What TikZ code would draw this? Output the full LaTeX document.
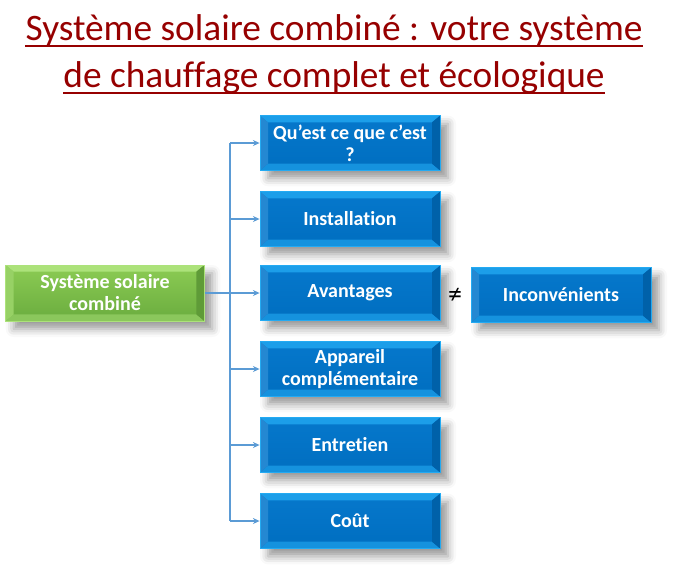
\documentclass[tikz,border=0pt]{standalone}
\usepackage{fontspec}
\setmainfont[Ligatures=NoCommon]{Carlito}
\usetikzlibrary{arrows.meta,shadows.blur}
\definecolor{titlered}{RGB}{150,0,0}
\definecolor{linkblue}{RGB}{91,155,213}
\definecolor{bluetop}{RGB}{6,120,204}
\definecolor{bluebot}{RGB}{0,110,192}
\definecolor{blueedge}{RGB}{35,170,242}
\definecolor{greentop}{RGB}{140,204,84}
\definecolor{greenbot}{RGB}{106,172,62}
\definecolor{greenedge}{RGB}{172,226,122}

\begin{document}
\begin{tikzpicture}[x=.75pt,y=-.75pt,line width=.35pt,
  title/.style={inner sep=0pt,text=titlered,font=\fontsize{28}{32}\selectfont},
  bevel/.style n args={4}{path picture={
    \coordinate (bnw) at (path picture bounding box.north west);\coordinate (bne) at (path picture bounding box.north east);
    \coordinate (bsw) at (path picture bounding box.south west);\coordinate (bse) at (path picture bounding box.south east);
    \fill[#1] (bnw)--(bne)--([shift={(-6pt,-5pt)}]bne)--([shift={(6pt,-5pt)}]bnw)--cycle;
    \fill[#2] (bsw)--(bse)--([shift={(-6pt,5pt)}]bse)--([shift={(6pt,5pt)}]bsw)--cycle;
    \fill[#3] (bnw)--(bsw)--([shift={(6pt,5pt)}]bsw)--([shift={(6pt,-5pt)}]bnw)--cycle;
    \fill[#4] (bne)--(bse)--([shift={(-6pt,5pt)}]bse)--([shift={(-6pt,-5pt)}]bne)--cycle;}},
  box/.style={minimum width=135pt,minimum height=41pt,inner sep=2pt,align=center,text=white,
    font=\bfseries\fontsize{15}{16.5}\selectfont,
    blur shadow={shadow xshift=6pt,shadow yshift=-6pt,shadow blur radius=6pt,shadow opacity=40}},
  bluebox/.style={box,top color=bluetop,bottom color=bluebot,draw=blueedge,line width=.6pt,
    bevel={blueedge!75!bluetop}{blueedge!60!bluebot}{bluetop!88!white}{bluebot!88!black}},
  greenbox/.style={box,minimum width=149pt,minimum height=42pt,top color=greentop,bottom color=greenbot,
    draw=greenedge,line width=.6pt,
    bevel={greenedge}{greenedge!50!greenbot}{greentop!90!white}{greenbot!90!black}},
  link/.style={draw=linkblue,line width=.9pt}]
\useasboundingbox (0,0) rectangle (673,576);
% titre
\node[title,anchor=base] (t1) at (334,40) {Système solaire combiné : votre système};
\node[title,anchor=base] (t2) at (334,87) {de chauffage complet et écologique};
\draw[titlered,line width=1.8pt] ([yshift=-4.5pt]t1.base west)--([yshift=-4.5pt]t1.base east);
\draw[titlered,line width=1.8pt] ([yshift=-4.5pt]t2.base west)--([yshift=-4.5pt]t2.base east);
% boites
\node[greenbox] (sys) at (105,293) {Système solaire\\combiné};
\node[bluebox] (quoi) at (350,143) {Qu’est ce que c’est\\?};
\node[bluebox] (inst) at (350,219) {Installation};
\node[bluebox] (avant) at (350,293) {Avantages};
\node[bluebox] (app) at (350,369) {Appareil\\complémentaire};
\node[bluebox] (ent) at (350,445) {Entretien};
\node[bluebox] (cout) at (350,521) {Coût};
\node[bluebox] (inconv) at (561,295) {Inconvénients};
\node[font=\fontsize{21}{22}\selectfont] (neq) at (455,296) {≠};
% liens
\coordinate (trunk) at (230,0);
\draw[link] (quoi.west -| trunk)--(cout.west -| trunk);
\foreach \n in {quoi,inst,app,ent,cout}
  \draw[link,-{Stealth[length=5pt,width=4.5pt]}] (\n.west -| trunk)--(\n.west);
\draw[link,-{Stealth[length=5pt,width=4.5pt]}] (sys)--(avant);
\end{tikzpicture}
\end{document}
